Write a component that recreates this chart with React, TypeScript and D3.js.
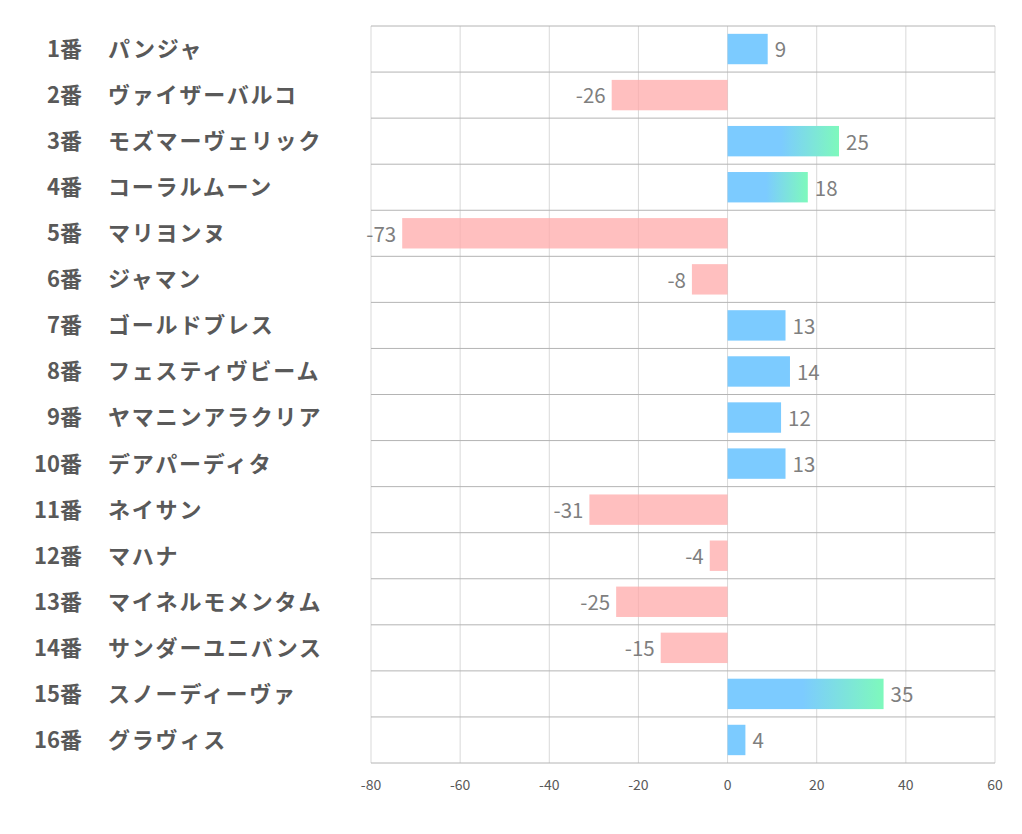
import React from "react";
import * as d3 from "d3";

const numbers = ["1番","2番","3番","4番","5番","6番","7番","8番","9番","10番","11番","12番","13番","14番","15番","16番"];
const names = ["パンジャ","ヴァイザーバルコ","モズマーヴェリック","コーラルムーン","マリヨンヌ","ジャマン","ゴールドブレス","フェスティヴビーム","ヤマニンアラクリア","デアパーディタ","ネイサン","マハナ","マイネルモメンタム","サンダーユニバンス","スノーディーヴァ","グラヴィス"];
const values = [9,-26,25,18,-73,-8,13,14,12,13,-31,-4,-25,-15,35,4];
const ticks = [-80,-60,-40,-20,0,20,40,60];

const W = 1022, H = 834;
const left = 371, right = 995, top = 26, bottom = 763;
const font = "'Noto Sans CJK JP', 'Noto Sans', sans-serif";

export default function App() {
  const x = d3.scaleLinear().domain([-80, 60]).range([left, right]);
  const y = d3.scaleBand<number>().domain(d3.range(values.length)).range([top, bottom]).paddingInner(0.34).paddingOuter(0.17);
  const rowH = (bottom - top) / values.length;
  const x0 = x(0);
  return (
    <svg width={W} height={H} style={{ position: "absolute", left: 0, top: 0 }} fontFamily={font}>
      <defs>
        {values.map((v, i) => v >= 15 ? (
          <linearGradient key={i} id={`g${i}`} x1="0" x2="1" y1="0" y2="0">
            <stop offset="0%" stopColor="#7ccbff" />
            <stop offset="48%" stopColor="#7ccbff" />
            <stop offset="100%" stopColor="#7ef9bc" />
          </linearGradient>
        ) : null)}
      </defs>
      <rect width={W} height={H} fill="#fff" />
      {ticks.map(t => (
        <line key={t} x1={x(t)} x2={x(t)} y1={top} y2={bottom} stroke="#d9d9d9" strokeWidth={1} />
      ))}
      {d3.range(values.length + 1).map(i => (
        <line key={i} x1={left} x2={right} y1={top + i * rowH} y2={top + i * rowH} stroke="#b4b4b4" strokeWidth={1} />
      ))}
      {values.map((v, i) => {
        const yy = y(i)!;
        const bw = y.bandwidth();
        const x1 = v >= 0 ? x0 : x(v);
        const w = Math.abs(x(v) - x0);
        const fill = v < 0 ? "rgba(255,170,170,0.75)" : (v >= 15 ? `url(#g${i})` : "#7ccbff");
        return (
          <g key={i}>
            <rect x={x1} y={yy} width={w} height={bw} fill={fill} />
            <text
              x={v >= 0 ? x(v) + 7 : x(v) - 6}
              y={yy + bw / 2 + 1}
              dy="0.36em"
              textAnchor={v >= 0 ? "start" : "end"}
              fontSize={20.5}
              fill="#7f7f7f"
            >{v}</text>
          </g>
        );
      })}
      {values.map((v, i) => {
        const cy = top + (i + 0.5) * rowH;
        return (
          <g key={"l" + i} fontWeight="bold" fontSize={22} fill="#595959">
            <text x={82} y={cy} dy="0.36em" textAnchor="end">{numbers[i]}</text>
            <text x={108} y={cy} dy="0.36em" textAnchor="start" letterSpacing={1.8}>{names[i]}</text>
          </g>
        );
      })}
      {ticks.map(t => (
        <text key={"t" + t} x={x(t)} y={785} dy="0.36em" textAnchor="middle" fontSize={14} fill="#595959">{t}</text>
      ))}
    </svg>
  );
}
